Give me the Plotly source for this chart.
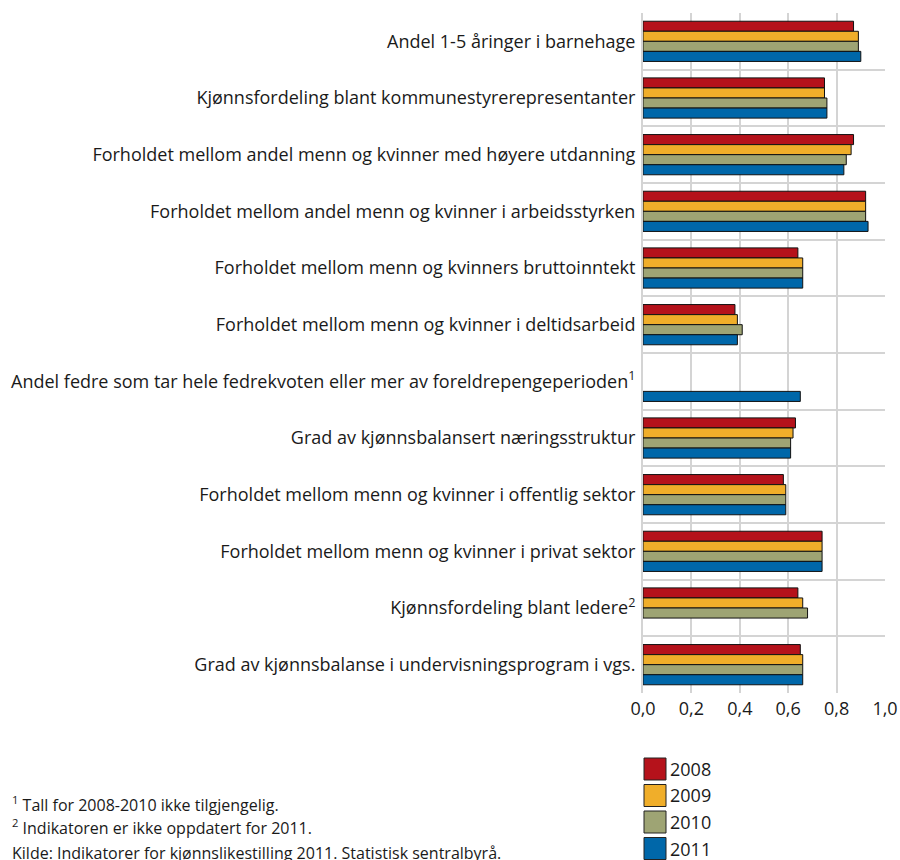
import plotly.graph_objects as go

categories = [
    "Andel 1-5 åringer i barnehage",
    "Kjønnsfordeling blant kommunestyrerepresentanter",
    "Forholdet mellom andel menn og kvinner med høyere utdanning",
    "Forholdet mellom andel menn og kvinner i arbeidsstyrken",
    "Forholdet mellom menn og kvinners bruttoinntekt",
    "Forholdet mellom menn og kvinner i deltidsarbeid",
    "Andel fedre som tar hele fedrekvoten eller mer av foreldrepengeperioden<sup>1</sup>",
    "Grad av kjønnsbalansert næringsstruktur",
    "Forholdet mellom menn og kvinner i offentlig sektor",
    "Forholdet mellom menn og kvinner i privat sektor",
    "Kjønnsfordeling blant ledere<sup>2</sup>",
    "Grad av kjønnsbalanse i undervisningsprogram i vgs.",
]

years = ["2008", "2009", "2010", "2011"]
v2008 = [0.87, 0.75, 0.87, 0.92, 0.64, 0.38, None, 0.63, 0.58, 0.74, 0.64, 0.65]
v2009 = [0.89, 0.75, 0.86, 0.92, 0.66, 0.39, None, 0.62, 0.59, 0.74, 0.66, 0.66]
v2010 = [0.89, 0.76, 0.84, 0.92, 0.66, 0.41, None, 0.61, 0.59, 0.74, 0.68, 0.66]
v2011 = [0.90, 0.76, 0.83, 0.93, 0.66, 0.39, 0.65, 0.61, 0.59, 0.74, None, 0.66]
series = [v2008, v2009, v2010, v2011]
colors = ["#b5121b", "#f0ae2a", "#9ea474", "#0067a9"]

xticks = [0, 0.2, 0.4, 0.6, 0.8, 1.0]
xticklabels = ["0,0", "0,2", "0,4", "0,6", "0,8", "1,0"]

footnotes = [
    "<sup>1</sup> Tall for 2008-2010 ikke tilgjengelig.",
    "<sup>2</sup> Indikatoren er ikke oppdatert for 2011.",
    "Kilde: Indikatorer for kjønnslikestilling 2011. Statistisk sentralbyrå.",
]

W, H = 900, 860
# plot area in window pixels: x 643..885, y 13..693
L, R, T, B = 643, 900 - 885, 13, 860 - 693
PW, PH = W - L - R, H - T - B


def px(x):
    return (x - L) / PW


def py(y):
    return (H - B - y) / PH


font = "Open Sans"
fig = go.Figure()
for yr, vals, col in zip(years, series, colors):
    fig.add_trace(go.Bar(
        y=categories, x=vals, name=yr, orientation="h",
        marker=dict(color=col, line=dict(color="#111111", width=1)),
        showlegend=False,
    ))

fig.update_layout(
    width=W, height=H,
    barmode="group", bargap=0.29, bargroupgap=0,
    plot_bgcolor="white", paper_bgcolor="white",
    margin=dict(l=L, r=R, t=T, b=B, autoexpand=False),
    font=dict(family=font, size=18, color="#1a1a1a"),
    xaxis=dict(range=[0, 1.0], tickvals=xticks, ticktext=xticklabels,
               showgrid=True, gridcolor="#d4d4d4", gridwidth=2,
               zeroline=False, showline=False, ticks="", fixedrange=True,
               automargin=False, tickfont=dict(size=18), ticklabelstandoff=3),
    yaxis=dict(autorange="reversed", tickson="boundaries", showgrid=True,
               gridcolor="#d4d4d4", gridwidth=2, ticks="", ticklen=0,
               automargin=False, tickfont=dict(size=18), ticklabelstandoff=2,
               showline=True, linecolor="#d4d4d4", linewidth=2, mirror=False),
)

# manual legend (large square swatches)
for i, (yr, col) in enumerate(zip(years, colors)):
    yc = 769 + i * 26.5
    fig.add_shape(type="rect", xref="paper", yref="paper",
                  x0=px(644), x1=px(666),
                  y0=py(yc + 11), y1=py(yc - 11),
                  line=dict(color="#222", width=1), fillcolor=col)
    fig.add_annotation(xref="paper", yref="paper", x=px(668),
                       y=py(yc), text=yr, showarrow=False,
                       xanchor="left", yanchor="middle",
                       font=dict(size=18, color="#1a1a1a"))

for i, t in enumerate(footnotes):
    ypx = [804, 827, 853][i]
    fig.add_annotation(xref="paper", yref="paper", x=px(10),
                       y=py(ypx), text=t, showarrow=False,
                       xanchor="left", yanchor="middle",
                       font=dict(size=16, color="#1a1a1a"))

fig.write_html(
    "out.html",
    config={"displayModeBar": False},
    post_script="document.body.style.margin='0px';"
                "document.body.style.overflow='hidden';",
)
